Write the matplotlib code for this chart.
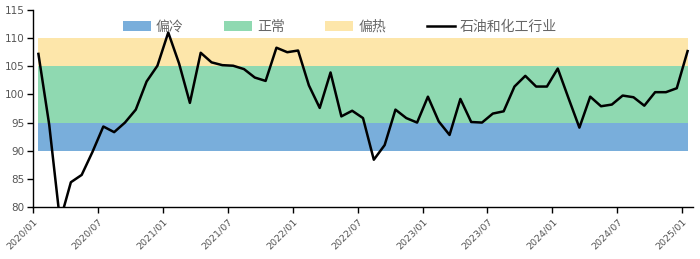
import matplotlib
matplotlib.use("Agg")
import matplotlib.pyplot as plt
import numpy as np
from matplotlib.patches import Patch
from matplotlib.lines import Line2D

plt.rcParams['font.family'] = ['Noto Sans CJK SC', 'DejaVu Sans']

months = [f"{y}/{m:02d}" for y in range(2020, 2026) for m in range(1, 13)][:61]
values = [107.2, 94.6, 77.5, 84.4, 85.7, 89.8, 94.3, 93.3, 95.0, 97.3,
          102.3, 105.1, 111.0, 105.5, 98.5, 107.4, 105.7, 105.2, 105.1, 104.5,
          103.0, 102.4, 108.3, 107.5, 107.8, 101.6, 97.6, 103.9, 96.1, 97.1,
          95.8, 88.4, 91.0, 97.3, 95.8, 95.0, 99.6, 95.2, 92.8, 99.2,
          95.1, 95.0, 96.6, 97.0, 101.4, 103.3, 101.4, 101.4, 104.6, 99.3,
          94.1, 99.6, 97.9, 98.2, 99.8, 99.5, 98.0, 100.4, 100.4, 101.1,
          107.7]
band_names = ["偏冷", "正常", "偏热"]
band_low = [90, 95, 105]
band_high = [95, 105, 110]
band_colors = ["#79aedb", "#8fd9b1", "#fde6aa"]
series_name = "石油和化工行业"
tick_every = 6

fig = plt.figure(figsize=(7, 2.59), dpi=100)
ax = fig.add_axes([33/700, 52/259, 660/700, 197/259])

x = np.arange(len(values))
for lo, hi, c in zip(band_low, band_high, band_colors):
    ax.fill_between(x, lo, hi, color=c, linewidth=0, zorder=1)
ax.plot(x, values, color="black", linewidth=1.8, zorder=3, clip_on=True)

ax.set_xlim(-0.5, len(values) - 0.5)
ax.set_ylim(80, 115)
ax.set_yticks(np.arange(80, 116, 5))
tick_pos = np.arange(0, len(values), tick_every)
ax.set_xticks(tick_pos - 0.5)
ax.set_xticklabels([months[i] for i in tick_pos], rotation=45, ha="right",
                   rotation_mode="anchor", fontsize=6.8, color="#555555",
                   family="DejaVu Sans")
for lab in ax.get_yticklabels():
    lab.set_fontsize(7.5)
    lab.set_color("#555555")
    lab.set_family("DejaVu Sans")
ax.tick_params(axis="x", length=4, width=1, color="black", pad=3)
ax.tick_params(axis="y", length=4, width=1, color="black", pad=2)
for s in ["top", "right"]:
    ax.spines[s].set_visible(False)
ax.spines["left"].set_linewidth(1)
ax.spines["bottom"].set_linewidth(1)

handles = [Patch(facecolor=c, edgecolor="none") for c in band_colors]
handles.append(Line2D([0], [0], color="black", linewidth=1.8))
leg = fig.legend(handles, band_names + [series_name], loc="center",
                 bbox_to_anchor=(340/700, 1 - 27/259), ncol=4, frameon=False,
                 fontsize=10, handlelength=2.0, handleheight=0.7,
                 handletextpad=0.4, columnspacing=2.9)
for t in leg.get_texts():
    t.set_color("#666666")

fig.savefig("out.png", dpi=100)
